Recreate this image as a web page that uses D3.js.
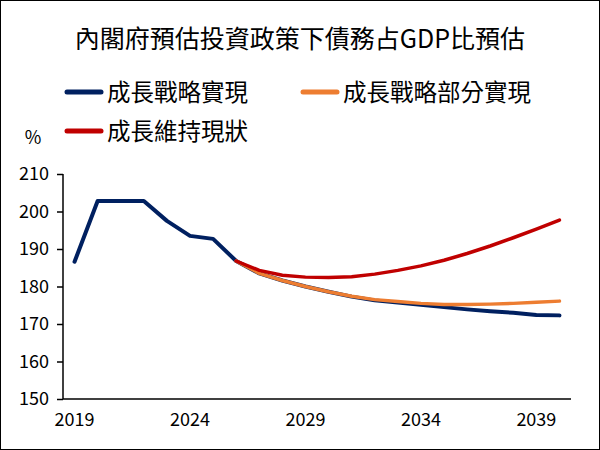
<!DOCTYPE html>
<meta charset="utf-8">
<head>
    <title>債務占GDP比預估</title>
    <script src="https://d3js.org/d3.v7.min.js"></script>
</head>
<style>
    body {
        margin: 0;
        background: #fff;
    }

    svg text {
        font-family: "Noto Sans CJK TC", "Noto Sans", sans-serif;
        fill: #000;
    }

    .axis path, .axis line {
        stroke: #000;
        stroke-width: 1.5px;
    }

    .axis text {
        font-size: 18px;
    }

    .line {
        fill: none;
        stroke-linejoin: round;
        stroke-linecap: round;
    }
</style>
<body>
<script>
    // years on the horizontal axis
    var years = d3.range(2019, 2041);
    var yearLabels = [2019, 2024, 2029, 2034, 2039];
    var yTicks = [150, 160, 170, 180, 190, 200, 210];

    // 成長戰略實現 (2019-2040)
    var growthFull = [186.6, 202.8, 202.8, 202.8, 197.5, 193.5, 192.7, 186.8, 183.5, 181.6,
        180.0, 178.6, 177.3, 176.3, 175.7, 175.1, 174.5, 173.9, 173.4, 173.0, 172.4, 172.3];
    // 成長戰略部分實現 (2026-2040)
    var growthPart = [186.8, 183.5, 181.6, 180.0, 178.6, 177.4, 176.5, 176.0, 175.5, 175.2,
        175.2, 175.3, 175.5, 175.8, 176.1];
    // 成長維持現狀 (2026-2040)
    var statusQuo = [186.8, 184.3, 183.0, 182.5, 182.4, 182.6, 183.3, 184.3, 185.5, 187.0,
        188.8, 190.8, 193.0, 195.3, 197.7];

    var seriesNames = ["成長戰略實現", "成長戰略部分實現", "成長維持現狀"];
    var seriesColors = ["#002060", "#ED7D31", "#C00000"];

    var width = 600, height = 450;

    var svg = d3.select("body").append("svg")
        .attr("width", width)
        .attr("height", height);

    // frame round the picture
    svg.append("rect")
        .attr("x", 0.5).attr("y", 0.5)
        .attr("width", width - 1).attr("height", height - 1)
        .attr("fill", "#fff")
        .attr("stroke", "#000");

    var x = d3.scaleBand().domain(years).range([63, 571]);
    var y = d3.scaleLinear().domain([150, 210]).range([399, 174]);

    svg.append("text")
        .attr("x", 300).attr("y", 48)
        .attr("text-anchor", "middle")
        .style("font-size", "25px")
        .text("內閣府預估投資政策下債務占GDP比預估");

    // legend
    var legendPos = [[67, 92], [303, 92], [67, 131]];
    seriesNames.forEach(function (name, i) {
        var g = svg.append("g").attr("transform", "translate(" + legendPos[i][0] + "," + legendPos[i][1] + ")");
        g.append("line")
            .attr("x1", 0).attr("x2", 34)
            .attr("stroke", seriesColors[i])
            .attr("stroke-width", 5)
            .attr("stroke-linecap", "round");
        g.append("text")
            .attr("x", 40).attr("y", 9)
            .style("font-size", "23.5px")
            .text(name);
    });

    svg.append("text")
        .attr("x", 33).attr("y", 144)
        .attr("text-anchor", "middle")
        .style("font-size", "18px")
        .text("%");

    // axes
    svg.append("g")
        .attr("class", "axis")
        .attr("transform", "translate(63,0)")
        .call(d3.axisLeft(y).tickValues(yTicks).tickSize(6).tickPadding(6))
        .call(function (g) { g.select(".domain").attr("d", "M0,174V399"); })
        .selectAll("text").attr("dx", "-2");

    svg.append("g")
        .attr("class", "axis")
        .attr("transform", "translate(0,399)")
        .call(d3.axisBottom(x).tickValues(yearLabels).tickSize(0).tickPadding(14))
        .call(function (g) { g.select(".domain").attr("d", "M63,0H571"); });

    var line = d3.line()
        .x(function (d) { return x(d[0]) + x.bandwidth() / 2; })
        .y(function (d) { return y(d[1]); });

    var data = [
        years.map(function (yr, i) { return [yr, growthFull[i]]; }),
        years.slice(7).map(function (yr, i) { return [yr, growthPart[i]]; }),
        years.slice(7).map(function (yr, i) { return [yr, statusQuo[i]]; })
    ];
    var widths = [4, 3.5, 3.5];

    data.forEach(function (d, i) {
        svg.append("path")
            .attr("class", "line")
            .attr("d", line(d))
            .attr("stroke", seriesColors[i])
            .attr("stroke-width", widths[i]);
    });
</script>
</body>
</html>
